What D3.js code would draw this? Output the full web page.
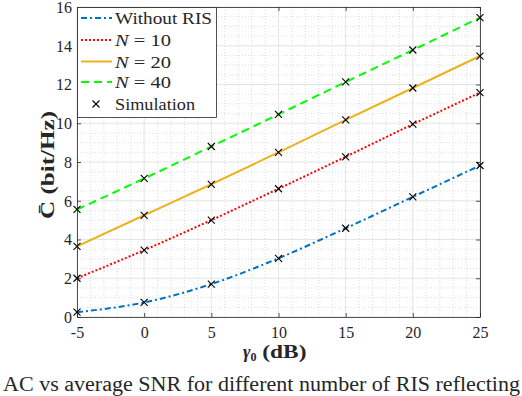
<!DOCTYPE html>
<html lang="en">
<head>
<meta charset="UTF-8">
<title>Capacity vs SNR</title>
<script src="https://cdnjs.cloudflare.com/ajax/libs/d3/7.8.5/d3.min.js"></script>
<style>
    body { margin: 0; padding: 0; background: #ffffff; }
    svg { display: block; }
    text { font-family: "Liberation Serif", "DejaVu Serif", serif; fill: #262626; }
</style>
</head>
<body>
<div id="chart"></div>
<script>
    const snr = [-5, 0, 5, 10, 15, 20, 25];
    const withoutRIS = [0.25, 0.75, 1.7, 3.03, 4.58, 6.2, 7.82];
    const n10 = [2.0, 3.45, 5.0, 6.62, 8.27, 9.95, 11.58];
    const n20 = [3.65, 5.25, 6.85, 8.5, 10.17, 11.82, 13.47];
    const n40 = [5.55, 7.15, 8.8, 10.46, 12.13, 13.78, 15.45];
    const xTicks = [-5, 0, 5, 10, 15, 20, 25];
    const yTicks = [0, 2, 4, 6, 8, 10, 12, 14, 16];

    const series = [
        {label: "Without RIS", values: withoutRIS, color: "#0072BD", dash: "6,3,2,3", len: 97},
        {label: "N = 10", n: "10", values: n10, color: "#FF0000", dash: "2,2", len: 56},
        {label: "N = 20", n: "20", values: n20, color: "#EDB120", dash: null, len: 56},
        {label: "N = 40", n: "40", values: n40, color: "#00FF00", dash: "8,5", len: 56}
    ];

    const width = 522, height = 396;
    const margin = {left: 77, right: 42, top: 7, bottom: 79};

    const svg = d3.select("#chart").append("svg")
        .attr("width", width).attr("height", height);

    const x = d3.scaleLinear().domain([-5, 25]).range([margin.left, width - margin.right]);
    const y = d3.scaleLinear().domain([0, 16]).range([height - margin.bottom, margin.top]);

    // minor grid
    const g = svg.append("g");
    g.selectAll(".mx").data(d3.range(-4, 25, 1).filter(v => v % 5 !== 0)).join("line")
        .attr("x1", d => x(d)).attr("x2", d => x(d))
        .attr("y1", y(0)).attr("y2", y(16))
        .attr("stroke", "#c8c8c8").attr("stroke-width", 0.6).attr("stroke-dasharray", "1,2");
    g.selectAll(".my").data(d3.range(0.5, 16, 0.5).filter(v => v % 2 !== 0)).join("line")
        .attr("y1", d => y(d)).attr("y2", d => y(d))
        .attr("x1", x(-5)).attr("x2", x(25))
        .attr("stroke", "#c8c8c8").attr("stroke-width", 0.6).attr("stroke-dasharray", "1,2");
    // major grid
    g.selectAll(".gx").data(xTicks).join("line")
        .attr("x1", d => x(d)).attr("x2", d => x(d))
        .attr("y1", y(0)).attr("y2", y(16))
        .attr("stroke", "#dedede").attr("stroke-width", 0.8);
    g.selectAll(".gy").data(yTicks).join("line")
        .attr("y1", d => y(d)).attr("y2", d => y(d))
        .attr("x1", x(-5)).attr("x2", x(25))
        .attr("stroke", "#dedede").attr("stroke-width", 0.8);

    // axes
    const axColor = "#262626";
    const xAxis = svg.append("g").attr("transform", `translate(0,${y(0)})`)
        .call(d3.axisBottom(x).tickValues(xTicks).tickSizeInner(-4).tickSizeOuter(0).tickPadding(10)
            .tickFormat(d => d < 0 ? "-" + Math.abs(d) : d));
    const xTop = svg.append("g").attr("transform", `translate(0,${y(16)})`)
        .call(d3.axisTop(x).tickValues(xTicks).tickSizeInner(-4).tickSizeOuter(0).tickFormat(""));
    const yAxis = svg.append("g").attr("transform", `translate(${x(-5)},0)`)
        .call(d3.axisLeft(y).tickValues(yTicks).tickSizeInner(-4).tickSizeOuter(0).tickPadding(5));
    const yRight = svg.append("g").attr("transform", `translate(${x(25)},0)`)
        .call(d3.axisRight(y).tickValues(yTicks).tickSizeInner(-4).tickSizeOuter(0).tickFormat(""));
    [xAxis, xTop, yAxis, yRight].forEach(a => {
        a.selectAll("path").attr("stroke", axColor).attr("stroke-width", 0.8);
        a.selectAll("line").attr("stroke", axColor).attr("stroke-width", 0.8);
        a.selectAll("text").attr("font-size", 16).attr("fill", axColor)
            .attr("font-family", "Liberation Serif, serif");
    });
    yAxis.selectAll("text").attr("dy", "0.34em");

    // curves
    const line = d3.line().x((d, i) => x(snr[i])).y(d => y(d)).curve(d3.curveMonotoneX);
    series.forEach(s => {
        svg.append("path").datum(s.values)
            .attr("d", line)
            .attr("fill", "none")
            .attr("stroke", s.color)
            .attr("stroke-width", 2)
            .attr("stroke-dasharray", s.dash);
    });

    // simulation markers
    const cross = (sel, cx, cy) => sel.append("path")
        .attr("d", `M${cx - 3.5},${cy - 3.5}L${cx + 3.5},${cy + 3.5}M${cx - 3.5},${cy + 3.5}L${cx + 3.5},${cy - 3.5}`)
        .attr("stroke", "#000").attr("stroke-width", 1.1).attr("fill", "none");
    series.forEach(s => {
        s.values.forEach((v, i) => cross(svg, x(snr[i]), y(v)));
    });

    // legend
    const lg = svg.append("g");
    lg.append("rect").attr("x", 77.5).attr("y", 7.5).attr("width", 139).attr("height", 110)
        .attr("fill", "#fff").attr("stroke", axColor).attr("stroke-width", 0.8);
    const rows = [18, 40, 61.5, 82, 104];
    series.forEach((s, i) => {
        lg.append("line").attr("x1", 81).attr("x2", 112).attr("y1", rows[i]).attr("y2", rows[i])
            .attr("stroke", s.color).attr("stroke-width", 2).attr("stroke-dasharray", s.dash);
        const t = lg.append("text").attr("x", 115).attr("y", rows[i] + 6).attr("font-size", 17)
            .attr("textLength", s.len).attr("lengthAdjust", "spacingAndGlyphs");
        if (s.n) {
            t.append("tspan").attr("font-style", "italic").text("N");
            t.append("tspan").text(" = " + s.n);
        } else {
            t.text(s.label);
        }
    });
    cross(lg, 96, rows[4]);
    lg.append("text").attr("x", 115).attr("y", rows[4] + 6).attr("font-size", 17)
        .attr("textLength", 80).attr("lengthAdjust", "spacingAndGlyphs").text("Simulation");

    // axis labels
    const xl = svg.append("text").attr("x", 243).attr("y", 358)
        .attr("font-size", 18).attr("font-weight", "bold");
    xl.append("tspan").attr("font-style", "italic").text("γ");
    xl.append("tspan").attr("font-size", 12).attr("dy", 3).text("0");
    xl.append("tspan").attr("dy", -3).text(" (dB)")
        .attr("textLength", 50).attr("lengthAdjust", "spacingAndGlyphs");

    svg.append("text")
        .attr("transform", `translate(54,${(y(0) + y(16)) / 2 + 3}) rotate(-90)`)
        .attr("text-anchor", "middle").attr("font-size", 18).attr("font-weight", "bold")
        .attr("textLength", 108).attr("lengthAdjust", "spacingAndGlyphs")
        .text("C\u0304 (bit/Hz)");

    // caption (the figure caption is cropped in the source image)
    svg.append("text").attr("x", 3).attr("y", 391).attr("font-size", 20)
        .attr("fill", "#000")
        .attr("textLength", 517).attr("lengthAdjust", "spacingAndGlyphs")
        .text("AC vs average SNR for different number of RIS reflecting");
</script>
</body>
</html>
